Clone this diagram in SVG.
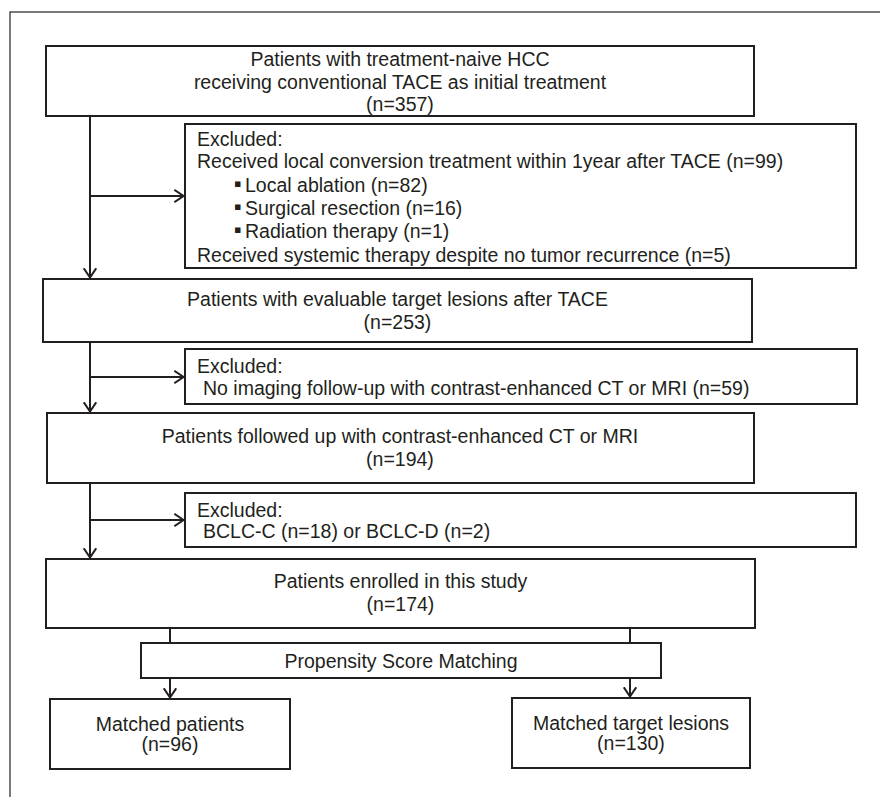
<svg xmlns="http://www.w3.org/2000/svg" width="880" height="797" viewBox="0 0 880 797">
<defs>
<style>
.box{fill:#fff;stroke:#231f20;stroke-width:2}
.frame{fill:none;stroke:#333;stroke-width:1.3}
.t{font-family:"Liberation Sans",Arial,sans-serif;font-size:19.5px;fill:#231f20}
.c{text-anchor:middle}
.ln{fill:none;stroke:#231f20;stroke-width:2}
.b{font-family:"DejaVu Sans",sans-serif;font-size:11px;fill:#231f20}
</style>
<marker id="ah" viewBox="0 0 11 14" refX="10.5" refY="7" markerWidth="11" markerHeight="14" markerUnits="userSpaceOnUse" orient="auto">
<path d="M0.8,0.8 L10,7 L0.8,13.2" fill="none" stroke="#231f20" stroke-width="2"/>
</marker>
</defs>
<rect width="880" height="797" fill="#fff"/>
<rect class="frame" x="10" y="12" width="880" height="800"/>
<g id="connectors">
<path class="ln" d="M90,116 V278" marker-end="url(#ah)"/>
<path class="ln" d="M90,196 H184" marker-end="url(#ah)"/>
<path class="ln" d="M90,342 V412" marker-end="url(#ah)"/>
<path class="ln" d="M90,377 H184" marker-end="url(#ah)"/>
<path class="ln" d="M90,483 V558" marker-end="url(#ah)"/>
<path class="ln" d="M90,520 H184" marker-end="url(#ah)"/>
<path class="ln" d="M170,628 V643"/>
<path class="ln" d="M630,628 V643"/>
<path class="ln" d="M170,678 V698" marker-end="url(#ah)"/>
<path class="ln" d="M630,678 V697" marker-end="url(#ah)"/>
</g>
<g id="n1">
<rect class="box" x="46" y="46" width="708" height="70"/>
<text class="t c" x="400" y="66">Patients with treatment-naive HCC</text>
<text class="t c" x="400" y="89">receiving conventional TACE as initial treatment</text>
<text class="t c" x="400" y="111">(n=357)</text>
</g>
<g id="ex1">
<rect class="box" x="185" y="124" width="671" height="144"/>
<text class="t" x="197" y="146">Excluded:</text>
<text class="t" x="197" y="168">Received local conversion treatment within 1year after TACE (n=99)</text>
<text class="b" x="234" y="187">▪</text>
<text class="t" x="245" y="192">Local ablation (n=82)</text>
<text class="b" x="234" y="210">▪</text>
<text class="t" x="245" y="215">Surgical resection (n=16)</text>
<text class="b" x="234" y="233">▪</text>
<text class="t" x="245" y="238">Radiation therapy (n=1)</text>
<text class="t" x="197" y="262">Received systemic therapy despite no tumor recurrence (n=5)</text>
</g>
<g id="n2">
<rect class="box" x="43" y="279" width="709" height="63"/>
<text class="t c" x="397.5" y="306">Patients with evaluable target lesions after TACE</text>
<text class="t c" x="397.5" y="329">(n=253)</text>
</g>
<g id="ex2">
<rect class="box" x="185" y="349" width="672" height="55"/>
<text class="t" x="197" y="373">Excluded:</text>
<text class="t" x="203" y="395">No imaging follow-up with contrast-enhanced CT or MRI (n=59)</text>
</g>
<g id="n3">
<rect class="box" x="47" y="413" width="707" height="70"/>
<text class="t c" x="400" y="443">Patients followed up with contrast-enhanced CT or MRI</text>
<text class="t c" x="400" y="466">(n=194)</text>
</g>
<g id="ex3">
<rect class="box" x="185" y="493" width="671" height="54"/>
<text class="t" x="197" y="517">Excluded:</text>
<text class="t" x="203" y="538">BCLC-C (n=18) or BCLC-D (n=2)</text>
</g>
<g id="n4">
<rect class="box" x="46" y="559" width="709" height="69"/>
<text class="t c" x="400.5" y="588">Patients enrolled in this study</text>
<text class="t c" x="400.5" y="611">(n=174)</text>
</g>
<g id="psm">
<rect class="box" x="141" y="643" width="520" height="35"/>
<text class="t c" x="401" y="668">Propensity Score Matching</text>
</g>
<g id="m1">
<rect class="box" x="50" y="699" width="240" height="70"/>
<text class="t c" x="170" y="731">Matched patients</text>
<text class="t c" x="170" y="751">(n=96)</text>
</g>
<g id="m2">
<rect class="box" x="512" y="698" width="238" height="70"/>
<text class="t c" x="631" y="730">Matched target lesions</text>
<text class="t c" x="631" y="750">(n=130)</text>
</g>
</svg>
